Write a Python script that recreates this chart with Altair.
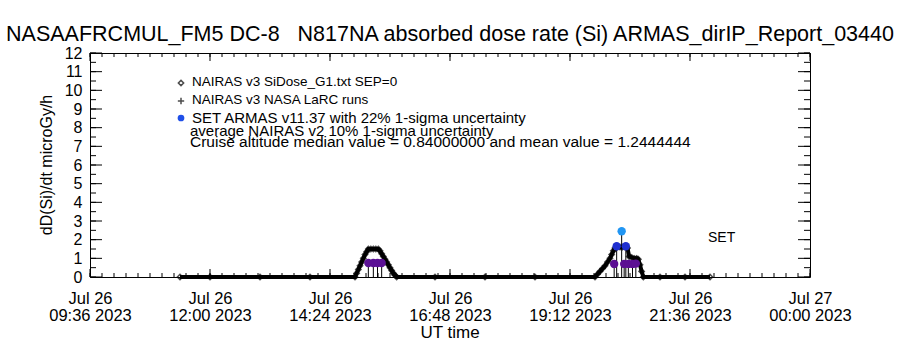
import altair as alt
import pandas as pd

# ---------------- data ----------------
nairas_time = ["11:24", "12:00", "13:00", "14:00", "14:54", "14:56", "14:58", "15:00", "15:02", "15:04",
               "15:06", "15:08", "15:10", "15:13", "15:16", "15:19", "15:22", "15:24", "15:26", "15:28",
               "15:30", "15:32", "15:34", "15:36", "15:38", "15:40", "15:42", "15:44", "16:30", "17:30",
               "18:30", "19:42", "19:45", "19:48", "19:51", "19:54", "19:57", "20:00", "20:02", "20:04",
               "20:06", "20:09", "20:12", "20:15", "20:18", "20:21", "20:23", "20:26", "20:29", "20:32",
               "20:34", "20:36", "20:38", "20:40", "21:00", "21:30", "22:00"]
nairas_dose = [0, 0, 0, 0, 0, 0.2, 0.4, 0.6, 0.8, 1.0,
               1.2, 1.35, 1.5, 1.5, 1.5, 1.5, 1.5, 1.4, 1.25, 1.1,
               0.95, 0.8, 0.65, 0.5, 0.35, 0.2, 0.1, 0, 0, 0,
               0, 0, 0.15, 0.3, 0.45, 0.6, 0.8, 1.0, 1.2, 1.4,
               1.55, 1.6, 1.6, 1.6, 1.6, 1.55, 1.1, 1.05, 1.0, 1.0,
               0.95, 0.65, 0.3, 0, 0, 0, 0]

armas_time = ["15:10", "15:16", "15:21", "15:26",
              "20:05", "20:08", "20:14", "20:19", "20:17", "20:22", "20:27", "20:31"]
armas_dose = [0.75, 0.75, 0.75, 0.75,
              0.7, 1.65, 2.45, 1.65, 0.7, 0.7, 0.7, 0.72]

x_major = ["2023-07-26T09:36:00Z", "2023-07-26T12:00:00Z", "2023-07-26T14:24:00Z", "2023-07-26T16:48:00Z",
           "2023-07-26T19:12:00Z", "2023-07-26T21:36:00Z", "2023-07-27T00:00:00Z"]
y_major = list(range(13))

title_text = "NASAAFRCMUL_FM5 DC-8\u00a0\u00a0\u00a0N817NA absorbed dose rate (Si) ARMAS_dirIP_Report_03440"
legend_lines = ["NAIRAS v3 SiDose_G1.txt SEP=0", "NAIRAS v3 NASA LaRC runs",
                "SET ARMAS v11.37 with 22% 1-sigma uncertainty"]
note_lines = ["average NAIRAS v2 10% 1-sigma uncertainty",
              "Cruise altitude median value = 0.84000000 and mean value = 1.2444444"]

# ---------------- tables ----------------
def iso(t):
    return "2023-07-26T" + t + ":00Z"

nairas = pd.DataFrame({"time": [iso(t) for t in nairas_time], "dose": nairas_dose})
armas = pd.DataFrame({"time": [iso(t) for t in armas_time], "dose": armas_dose})
armas["zero"] = 0

minor_times = pd.date_range("2023-07-26 09:36", "2023-07-27 00:00", freq="864s")
x_minor_df = pd.DataFrame({"time": [t.strftime("%Y-%m-%dT%H:%M:%SZ") for t in minor_times]})
x_major_df = pd.DataFrame({"time": x_major})
y_major_df = pd.DataFrame({"dose": y_major})
y_minor_df = pd.DataFrame({"dose": [i * 0.5 for i in range(25)]})

FONT = "Liberation Sans"
W, H = 720, 224

xscale = alt.Scale(type="utc",
                   domain=[alt.DateTime(year=2023, month=7, date=26, hours=9, minutes=36, utc=True),
                           alt.DateTime(year=2023, month=7, date=27, hours=0, minutes=0, utc=True)])
yscale = alt.Scale(domain=[0, 12], nice=False, zero=True)

x_axis = alt.Axis(
    values=[alt.DateTime(year=2023, month=7, date=26, hours=9, minutes=36, utc=True),
            alt.DateTime(year=2023, month=7, date=26, hours=12, minutes=0, utc=True),
            alt.DateTime(year=2023, month=7, date=26, hours=14, minutes=24, utc=True),
            alt.DateTime(year=2023, month=7, date=26, hours=16, minutes=48, utc=True),
            alt.DateTime(year=2023, month=7, date=26, hours=19, minutes=12, utc=True),
            alt.DateTime(year=2023, month=7, date=26, hours=21, minutes=36, utc=True),
            alt.DateTime(year=2023, month=7, date=27, hours=0, minutes=0, utc=True)],
    labelExpr="[utcFormat(datum.value, '%b %d'), utcFormat(datum.value, '%H:%M %Y')]",
    labelFontSize=16.5, labelFont=FONT, labelColor="black", labelPadding=13,
    labelLineHeight=17, labelOverlap=False, labelFlush=False,
    tickSize=0, domain=False, grid=False, title=None)
y_axis = alt.Axis(values=y_major, labelFontSize=16, labelFont=FONT, labelColor="black",
                  labelPadding=8, tickSize=0, domain=False, grid=False, title=None,
                  labelOverlap=False, labelFlush=False, tickCount=13)

X = lambda: alt.X("time:T", scale=xscale, axis=x_axis, title=None)
Y = lambda f="dose:Q": alt.Y(f, scale=yscale, axis=y_axis, title=None)

# ---------------- layers ----------------
base_line = alt.Chart(nairas).mark_line(color="black", strokeWidth=4).encode(x=X(), y=Y())
diamonds = alt.Chart(nairas).mark_point(shape="diamond", filled=False, color="black",
                                        size=28, strokeWidth=1.5).encode(x=X(), y=Y())

drops = alt.Chart(armas).mark_rule(color="black", strokeWidth=1).encode(
    x=X(), y=Y("zero:Q"), y2="dose:Q")
armas_pts = alt.Chart(armas).mark_point(shape="circle", filled=True, size=70, opacity=1).encode(
    x=X(), y=Y(),
    color=alt.Color("dose:Q", scale=alt.Scale(domain=[0.7, 1.65, 2.45],
                                              range=["#5c0f92", "#1f2fd0", "#2196f3"]),
                    legend=None))

# ticks (inward)
def xticks(df, length, top):
    y0 = 0 if top else H - length
    return alt.Chart(df).mark_rule(color="black", strokeWidth=1).encode(
        x=X(), y=alt.value(y0), y2=alt.value(y0 + length))

def yticks(df, length, right):
    x0 = W - length if right else 0
    return alt.Chart(df).mark_rule(color="black", strokeWidth=1).encode(
        y=Y(), x=alt.value(x0), x2=alt.value(x0 + length))

tick_layers = [xticks(x_minor_df, 4, False), xticks(x_minor_df, 4, True),
               xticks(x_major_df, 8, False), xticks(x_major_df, 8, True),
               yticks(y_minor_df, 6, False), yticks(y_minor_df, 6, True),
               yticks(y_major_df, 12, False), yticks(y_major_df, 12, True)]

def label(text, x, y, size=14, align="left", angle=None):
    kw = dict(align=align, baseline="middle", fontSize=size, font=FONT, color="black")
    if angle is not None:
        kw["angle"] = angle
    return alt.Chart(pd.DataFrame({"t": [text]})).mark_text(**kw).encode(
        text="t:N", x=alt.value(x), y=alt.value(y))

def symbol(x, y, **kw):
    return alt.Chart(pd.DataFrame({"a": [0]})).mark_point(**kw).encode(
        x=alt.value(x), y=alt.value(y))

texts = [
    label(title_text, 360, -18, size=21.5, align="center"),
    label("dD(Si)/dt microGy/h", -43, 112, size=16, align="center", angle=270),
    label("UT time", 360, 280, size=17, align="center"),
    label(legend_lines[0], 102, 29, size=13.5),
    label(legend_lines[1], 102, 47, size=13.5),
    label(legend_lines[2], 102, 65, size=15),
    label(note_lines[0], 100, 78, size=15),
    label(note_lines[1], 100, 89, size=15.5),
    label("SET", 618, 185),
    symbol(91, 30, shape="diamond", filled=False, color="black", size=28, strokeWidth=1.5),
    symbol(91, 48, shape="M-1,0L1,0M0,-1L0,1", filled=False, color="black", size=40, strokeWidth=1.5),
    symbol(91, 65, shape="circle", filled=True, color="#1f4fe8", size=45, opacity=1),
]

chart = alt.layer(base_line, diamonds, drops, armas_pts, *tick_layers, *texts).properties(
    width=W, height=H,
    padding={"left": 90, "top": 53, "right": 90, "bottom": 73},
    autosize=alt.AutoSizeParams(type="none"),
    background="white",
).configure_view(stroke="black", strokeWidth=1)

chart.save("out.html", embed_options={"renderer": "svg", "actions": False})
